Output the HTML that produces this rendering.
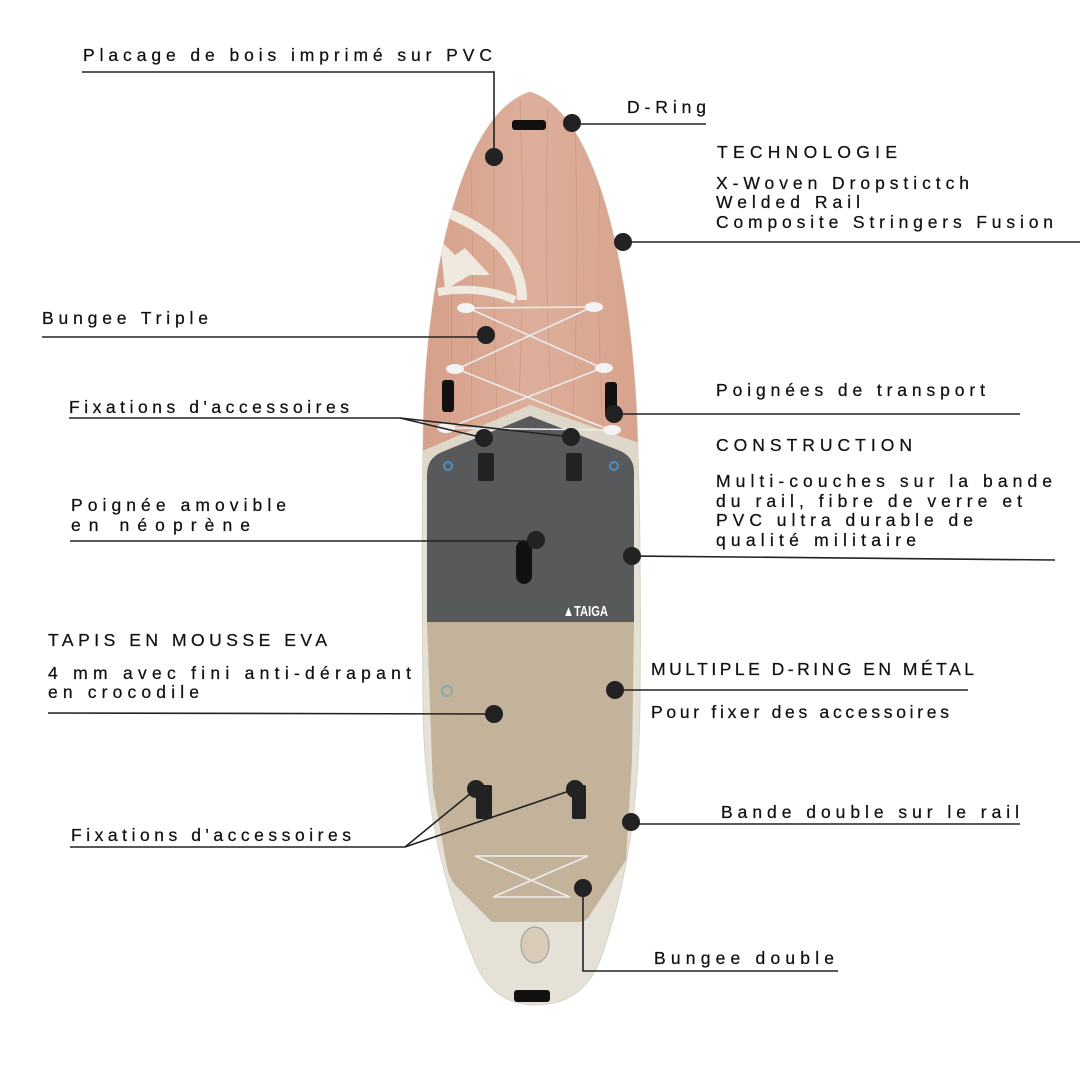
<!DOCTYPE html>
<html><head><meta charset="utf-8"><style>
html,body{margin:0;padding:0;background:#fff;}
svg{display:block;}
text{font-family:"Liberation Sans",sans-serif;font-size:17.5px;fill:#111;stroke:#111;stroke-width:0.25;}
</style></head><body>
<svg width="1080" height="1080" viewBox="0 0 1080 1080" xmlns="http://www.w3.org/2000/svg">
<defs>
<clipPath id="board"><path d="M530,92 C590,110 626,240 636,400 C640,480 641,600 640,700 C639,800 628,880 602,955 Q585,1005 535,1005 Q490,1005 472,955 C442,880 423,800 423,700 C422,600 422,480 424,400 C432,240 470,110 530,92 Z"/></clipPath>
<linearGradient id="wood" x1="0" x2="1" y1="0" y2="0">
<stop offset="0" stop-color="#d6a08a"/><stop offset="0.5" stop-color="#ddaf9b"/><stop offset="1" stop-color="#d7a28c"/>
</linearGradient>
</defs>
<path d="M530,92 C590,110 626,240 636,400 C640,480 641,600 640,700 C639,800 628,880 602,955 Q585,1005 535,1005 Q490,1005 472,955 C442,880 423,800 423,700 C422,600 422,480 424,400 C432,240 470,110 530,92 Z" fill="#e6e1d6" stroke="#d8d3c8" stroke-width="1"/>
<g clip-path="url(#board)">
<rect x="420" y="90" width="225" height="380" fill="url(#wood)"/>
<g stroke="#c98f77" stroke-width="0.8" opacity="0.6" fill="none">
<path d="M470,150 q5,100 0,300"/><path d="M495,110 q-4,150 3,330"/><path d="M520,100 q6,160 -2,320"/><path d="M548,110 q-5,150 4,300"/><path d="M575,130 q5,140 -3,300"/><path d="M600,180 q-4,120 3,250"/><path d="M450,250 q4,100 -2,200"/>
</g>
<path d="M420,452 L530,405 L645,445 L645,480 L420,480 Z" fill="#ddd8c9"/>
<path d="M427,475 Q427,458 442,452 L530,416 L618,450 Q634,456 634,472 L634,622 L427,622 Z" fill="#58595b"/>
<path d="M427,622 L634,622 L632,760 L626,860 L588,918 Q585,922 578,922 L492,922 L455,885 Q448,876 446,862 L433,790 Z" fill="#c3b39b"/>
<path d="M440,210 Q522,240 522,300" fill="none" stroke="#efe9e0" stroke-width="10"/>
<path d="M438,292 Q480,285 515,300" fill="none" stroke="#efe9e0" stroke-width="8"/>
<path d="M440,240 L455,255 L465,248 L490,275 L470,275 L445,290 Z" fill="#efe9e0"/>
</g>
<rect x="478" y="453" width="16" height="28" rx="2" fill="#222"/>
<rect x="566" y="453" width="16" height="28" rx="2" fill="#222"/>
<rect x="476" y="785" width="16" height="34" rx="2" fill="#222"/>
<rect x="572" y="785" width="14" height="34" rx="2" fill="#222"/>
<rect x="516" y="540" width="16" height="44" rx="8" fill="#111"/>
<text x="563" y="616" style="font-size:15px;fill:#fff;stroke:none;font-weight:bold" textLength="45" lengthAdjust="spacingAndGlyphs">▲TAIGA</text>
<circle cx="447" cy="691" r="5" fill="none" stroke="#8aa" stroke-width="2"/>
<circle cx="448" cy="466" r="4" fill="none" stroke="#4a90c8" stroke-width="2"/>
<circle cx="614" cy="466" r="4" fill="none" stroke="#4a90c8" stroke-width="2"/>
<rect x="512" y="120" width="34" height="10" rx="3" fill="#111"/>
<rect x="442" y="380" width="12" height="32" rx="3" fill="#111"/>
<rect x="605" y="382" width="12" height="32" rx="3" fill="#111"/>
<rect x="514" y="990" width="36" height="12" rx="3" fill="#111"/>
<ellipse cx="535" cy="945" rx="14" ry="18" fill="#d8ccb8" stroke="#999" stroke-width="1"/>
<g stroke="#ececec" stroke-width="1.6" fill="none">
<line x1="468" y1="308" x2="592" y2="307"/>
<line x1="468" y1="308" x2="602" y2="368"/><line x1="592" y1="307" x2="457" y2="369"/>
<line x1="457" y1="369" x2="610" y2="430"/><line x1="602" y1="368" x2="448" y2="428"/>
<line x1="448" y1="428" x2="610" y2="430"/>
<line x1="475" y1="856" x2="588" y2="856"/><line x1="475" y1="856" x2="570" y2="897"/><line x1="588" y1="856" x2="493" y2="897"/><line x1="493" y1="897" x2="570" y2="897"/>
</g>
<g fill="#f4f4f4"><ellipse cx="466" cy="308" rx="9" ry="5"/><ellipse cx="594" cy="307" rx="9" ry="5"/><ellipse cx="455" cy="369" rx="9" ry="5"/><ellipse cx="604" cy="368" rx="9" ry="5"/><ellipse cx="446" cy="428" rx="9" ry="5"/><ellipse cx="612" cy="430" rx="9" ry="5"/></g>

<g stroke="#222" stroke-width="1.6" fill="none">
<polyline points="82,72 494,72 494,157"/>
<line x1="572" y1="124" x2="706" y2="124"/>
<line x1="623" y1="242" x2="1080" y2="242"/>
<line x1="42" y1="337" x2="486" y2="337"/>
<line x1="614" y1="414" x2="1020" y2="414"/>
<polyline points="69,418 400,418 484,438"/><line x1="400" y1="418" x2="571" y2="437"/>
<polyline points="632,556 1055,560"/>
<line x1="70" y1="541" x2="536" y2="541"/>
<line x1="48" y1="713" x2="494" y2="714"/>
<line x1="615" y1="690" x2="968" y2="690"/>
<polyline points="70,847 405,847 476,789"/><line x1="405" y1="847" x2="575" y2="789"/>
<line x1="631" y1="824" x2="1020" y2="824"/>
<polyline points="583,888 583,971 838,971"/>
</g>
<g fill="#222">
<circle cx="494" cy="157" r="9"/><circle cx="572" cy="123" r="9"/><circle cx="623" cy="242" r="9"/>
<circle cx="486" cy="335" r="9"/><circle cx="614" cy="414" r="9"/><circle cx="484" cy="438" r="9"/><circle cx="571" cy="437" r="9"/>
<circle cx="632" cy="556" r="9"/><circle cx="536" cy="540" r="9"/><circle cx="494" cy="714" r="9"/>
<circle cx="615" cy="690" r="9"/><circle cx="476" cy="789" r="9"/><circle cx="575" cy="789" r="9"/>
<circle cx="631" cy="822" r="9"/><circle cx="583" cy="888" r="9"/>
</g>

<text x="83" y="61" textLength="409" lengthAdjust="spacing">Placage de bois imprimé sur PVC</text>
<text x="627" y="113" textLength="79" lengthAdjust="spacing">D-Ring</text>
<text x="717" y="158" textLength="180" lengthAdjust="spacing">TECHNOLOGIE</text>
<text x="716" y="189" textLength="253" lengthAdjust="spacing">X-Woven Dropstictch</text>
<text x="716" y="208" textLength="144" lengthAdjust="spacing">Welded Rail</text>
<text x="716" y="228" textLength="337" lengthAdjust="spacing">Composite Stringers Fusion</text>
<text x="42" y="324" textLength="166" lengthAdjust="spacing">Bungee Triple</text>
<text x="716" y="396" textLength="269" lengthAdjust="spacing">Poignées de transport</text>
<text x="69" y="413" textLength="280" lengthAdjust="spacing">Fixations d'accessoires</text>
<text x="716" y="451" textLength="196" lengthAdjust="spacing">CONSTRUCTION</text>
<text x="716" y="487" textLength="336" lengthAdjust="spacing">Multi-couches sur la bande</text>
<text x="716" y="507" textLength="306" lengthAdjust="spacing">du rail, fibre de verre et</text>
<text x="716" y="526" textLength="257" lengthAdjust="spacing">PVC ultra durable de</text>
<text x="716" y="546" textLength="200" lengthAdjust="spacing">qualité militaire</text>
<text x="71" y="511" textLength="215" lengthAdjust="spacing">Poignée amovible</text>
<text x="71" y="531" textLength="179" lengthAdjust="spacing">en néoprène</text>
<text x="48" y="646" textLength="279" lengthAdjust="spacing">TAPIS EN MOUSSE EVA</text>
<text x="48" y="679" textLength="363" lengthAdjust="spacing">4 mm avec fini anti-dérapant</text>
<text x="48" y="698" textLength="151" lengthAdjust="spacing">en crocodile</text>
<text x="651" y="675" textLength="323" lengthAdjust="spacing">MULTIPLE D-RING EN MÉTAL</text>
<text x="651" y="718" textLength="298" lengthAdjust="spacing">Pour fixer des accessoires</text>
<text x="71" y="841" textLength="280" lengthAdjust="spacing">Fixations d'accessoires</text>
<text x="721" y="818" textLength="298" lengthAdjust="spacing">Bande double sur le rail</text>
<text x="654" y="964" textLength="180" lengthAdjust="spacing">Bungee double</text>
</svg>
</body></html>
